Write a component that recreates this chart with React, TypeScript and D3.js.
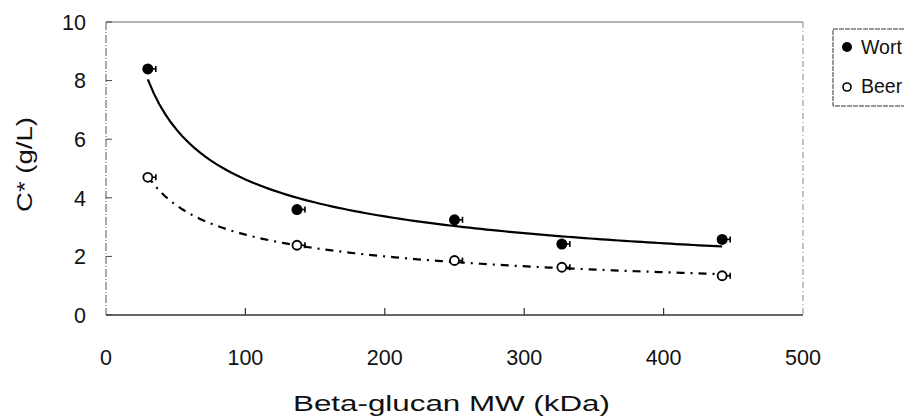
import React from "react";
import * as d3 from "d3";

const mwValues = [30, 137, 250, 327, 442];
const wortValues = [8.4, 3.6, 3.25, 2.42, 2.58];
const beerValues = [4.7, 2.38, 1.86, 1.63, 1.34];
const xTicks = [0, 100, 200, 300, 400, 500];
const yTicks = [0, 2, 4, 6, 8, 10];
const seriesNames = ["Wort", "Beer"];

function powerFit(xs: number[], ys: number[]) {
  const lx = xs.map(Math.log);
  const ly = ys.map(Math.log);
  const mx = d3.mean(lx) as number;
  const my = d3.mean(ly) as number;
  let sxy = 0, sxx = 0;
  lx.forEach((v, i) => { sxy += (v - mx) * (ly[i] - my); sxx += (v - mx) * (v - mx); });
  const b = sxy / sxx;
  const a = Math.exp(my - b * mx);
  return (x: number) => a * Math.pow(x, b);
}

export default function App() {
  const W = 904, H = 419;
  const x = d3.scaleLinear().domain([0, 500]).range([106, 803]);
  const y = d3.scaleLinear().domain([0, 10]).range([315, 22]);
  const font = "'Liberation Sans', Arial, Helvetica, sans-serif";

  const xMin = d3.min(mwValues) as number;
  const xMax = d3.max(mwValues) as number;
  const samples = d3.range(0, 101).map(i => xMin + (xMax - xMin) * i / 100);
  const wortFit = powerFit(mwValues, wortValues);
  const beerFit = powerFit(mwValues, beerValues);
  const line = d3.line<number[]>().x(d => x(d[0])).y(d => y(d[1])).curve(d3.curveLinear);
  const wortPath = line(samples.map(s => [s, wortFit(s)])) as string;
  const beerPath = line(samples.map(s => [s, beerFit(s)])) as string;

  const errBar = (cx: number, cy: number, key: string) => (
    <g key={key} stroke="#000" strokeWidth={1.6}>
      <line x1={cx} x2={cx + 8} y1={cy} y2={cy} />
      <line x1={cx + 8} x2={cx + 8} y1={cy - 3} y2={cy + 3} />
    </g>
  );

  return (
    <svg width={W} height={H} style={{ position: "absolute", left: 0, top: 0, background: "#fff" }} fontFamily={font}>
      {/* frame */}
      <line x1={106} x2={803} y1={22} y2={22} stroke="#666" strokeWidth={1} />
      <line x1={803} x2={803} y1={22} y2={315} stroke="#888" strokeWidth={1} strokeDasharray="6,3,1,3" />
      <line x1={106} x2={106} y1={22} y2={315} stroke="#555" strokeWidth={1} strokeDasharray="8,2,1,2" />
      <line x1={106} x2={803} y1={315} y2={315} stroke="#333" strokeWidth={1.3} />
      {/* y ticks */}
      {yTicks.map(t => (
        <g key={"yt" + t}>
          <line x1={106} x2={112} y1={y(t)} y2={y(t)} stroke="#444" strokeWidth={1} />
          <text x={86} y={y(t)} dy="0.36em" textAnchor="end" fontSize={21.5} fill="#111">{t}</text>
        </g>
      ))}
      {/* x ticks */}
      {xTicks.map(t => (
        <g key={"xt" + t}>
          {t > 0 && t < 500 && <line x1={x(t)} x2={x(t)} y1={315} y2={308} stroke="#333" strokeWidth={1.2} />}
          <text x={x(t)} y={365} textAnchor="middle" fontSize={21.5} fill="#111">{t}</text>
        </g>
      ))}
      {/* titles */}
      <text x={451.5} y={410.5} textAnchor="middle" fontSize={22} textLength={317} lengthAdjust="spacingAndGlyphs" fill="#111">Beta-glucan MW (kDa)</text>
      <text transform="translate(32,164.5) rotate(-90)" textAnchor="middle" fontSize={22} textLength={95} lengthAdjust="spacingAndGlyphs" fill="#111">C* (g/L)</text>
      {/* fits */}
      <path d={wortPath} fill="none" stroke="#000" strokeWidth={2.2} />
      <path d={beerPath} fill="none" stroke="#000" strokeWidth={2.2} strokeDasharray="8,6,2,6" />
      {/* points */}
      {mwValues.map((m, i) => errBar(x(m), y(wortValues[i]), "we" + i))}
      {mwValues.map((m, i) => errBar(x(m), y(beerValues[i]), "be" + i))}
      {mwValues.map((m, i) => (
        <circle key={"w" + i} cx={x(m)} cy={y(wortValues[i])} r={5.5} fill="#000" />
      ))}
      {mwValues.map((m, i) => (
        <circle key={"b" + i} cx={x(m)} cy={y(beerValues[i])} r={4.5} fill="#fff" stroke="#000" strokeWidth={1.8} />
      ))}
      {/* legend */}
      <rect x={833} y={29} width={100} height={77} fill="#fff" stroke="#333" strokeWidth={1} strokeDasharray="5,1" />
      <circle cx={847} cy={47} r={5} fill="#000" />
      <text x={861} y={54} fontSize={19.5} fill="#111">{seriesNames[0]}</text>
      <circle cx={847} cy={87} r={4} fill="#fff" stroke="#000" strokeWidth={1.6} />
      <text x={861} y={93} fontSize={19.5} fill="#111">{seriesNames[1]}</text>
    </svg>
  );
}
